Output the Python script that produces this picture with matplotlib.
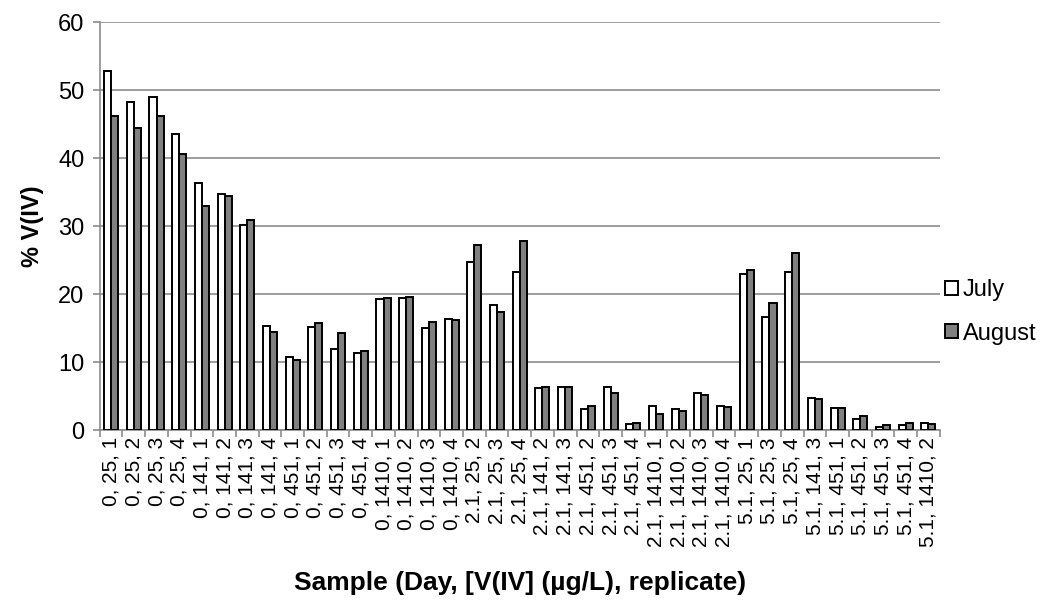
import matplotlib.pyplot as plt
import numpy as np

plt.rcParams["font.family"] = ["Liberation Sans", "DejaVu Sans"]

samples = [
    "0, 25, 1", "0, 25, 2", "0, 25, 3", "0, 25, 4",
    "0, 141, 1", "0, 141, 2", "0, 141, 3", "0, 141, 4",
    "0, 451, 1", "0, 451, 2", "0, 451, 3", "0, 451, 4",
    "0, 1410, 1", "0, 1410, 2", "0, 1410, 3", "0, 1410, 4",
    "2.1, 25, 2", "2.1, 25, 3", "2.1, 25, 4",
    "2.1, 141, 2", "2.1, 141, 3",
    "2.1, 451, 2", "2.1, 451, 3", "2.1, 451, 4",
    "2.1, 1410, 1", "2.1, 1410, 2", "2.1, 1410, 3", "2.1, 1410, 4",
    "5.1, 25, 1", "5.1, 25, 3", "5.1, 25, 4",
    "5.1, 141, 3",
    "5.1, 451, 1", "5.1, 451, 2", "5.1, 451, 3", "5.1, 451, 4",
    "5.1, 1410, 2",
]
july = [
    52.8, 48.2, 49.0, 43.6,
    36.3, 34.8, 30.2, 15.3,
    10.7, 15.2, 12.0, 11.4,
    19.3, 19.4, 15.0, 16.3,
    24.7, 18.4, 23.2,
    6.2, 6.4,
    3.1, 6.3, 0.9,
    3.5, 3.1, 5.4, 3.6,
    22.9, 16.6, 23.2,
    4.7,
    3.2, 1.6, 0.5, 0.8,
    1.1,
]
august = [
    46.2, 44.4, 46.2, 40.6,
    33.0, 34.5, 30.9, 14.5,
    10.3, 15.8, 14.3, 11.6,
    19.5, 19.6, 15.9, 16.2,
    27.3, 17.4, 27.8,
    6.4, 6.4,
    3.5, 5.5, 1.1,
    2.4, 2.8, 5.2, 3.4,
    23.6, 18.7, 26.0,
    4.6,
    3.2, 2.1, 0.8, 1.1,
    0.9,
]

fig = plt.figure(figsize=(10.5, 6), dpi=100)
ax = fig.add_axes([0.095, 0.283, 0.8, 0.68])

x = np.arange(len(samples))
width = 0.31
ax.bar(x - width / 2, july, width, color="white", edgecolor="black",
       linewidth=1.4, label="July", zorder=3)
ax.bar(x + width / 2, august, width, color="#808080", edgecolor="black",
       linewidth=1.4, label="August", zorder=3)

ax.set_xlim(-0.5, len(samples) - 0.5)
ax.set_ylim(0, 60)
ax.set_yticks(np.arange(0, 61, 10))
ax.yaxis.grid(True, color="#8c8c8c", linewidth=1.2, zorder=0)
ax.set_axisbelow(True)

ax.set_xticks(x)
ax.set_xticklabels(samples, rotation=90, fontsize=15)
ax.set_xticks(np.arange(-0.5, len(samples)), minor=True)
ax.tick_params(axis="x", which="major", length=0, pad=5)
ax.tick_params(axis="x", which="minor", length=5, color="#8c8c8c", width=1.2)
ax.tick_params(axis="y", length=5, color="#8c8c8c", width=1.2, labelsize=17,
               pad=6)

for side in ["top", "right"]:
    ax.spines[side].set_visible(False)
for side in ["left", "bottom"]:
    ax.spines[side].set_color("#8c8c8c")
    ax.spines[side].set_linewidth(1.2)

ax.set_ylabel("% V(IV)", fontsize=17, fontweight="bold", labelpad=10)
ax.set_xlabel("Sample (Day, [V(IV] (µg/L), replicate)", fontsize=19,
              fontweight="bold", labelpad=17)

ax.legend(loc="center left", bbox_to_anchor=(0.995, 0.29), frameon=False,
          fontsize=17, handlelength=0.55, handleheight=0.55, handletextpad=0.2,
          labelspacing=0.9, borderaxespad=0.0)

fig.savefig("out.png")
